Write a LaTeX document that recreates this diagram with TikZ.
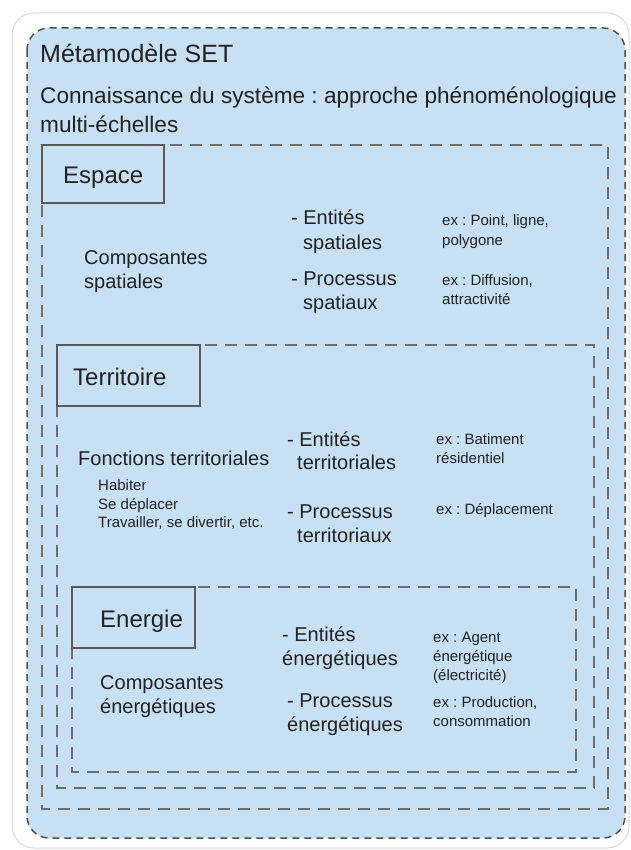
\documentclass[tikz,border=0pt]{standalone}
\usepackage{fontspec}
\setmainfont{Liberation Sans}
\frenchspacing
\definecolor{bgblue}{RGB}{199,224,243}
\definecolor{dashgray}{RGB}{110,110,110}
\definecolor{edgegray}{RGB}{80,80,80}
\definecolor{boxgray}{RGB}{90,90,90}
\definecolor{textgray}{RGB}{34,34,34}
\definecolor{outergray}{RGB}{218,218,218}
\newcommand\fTitle{\fontsize{25}{30}\selectfont}
\newcommand\fSub{\fontsize{22.6}{29}\selectfont}
\newcommand\fLab{\fontsize{24}{28}\selectfont}
\newcommand\fMid{\fontsize{20}{24}\selectfont}
\newcommand\fSmall{\fontsize{15}{19}\selectfont}
\begin{document}
\frenchspacing
\begin{tikzpicture}[x=1pt,y=-1pt,
  dashbox/.style={draw=dashgray, line width=1.2pt, dash pattern=on 12pt off 8pt},
  labelbox/.style={draw=boxgray, line width=1.2pt, fill=bgblue},
  txt/.style={anchor=base west, inner sep=0pt, text=textgray},
  big/.style={txt, font=\fMid},
  small/.style={txt, font=\fSmall}]
\useasboundingbox (0,0) rectangle (630,850);
\fill[white] (0,0) rectangle (630,850);
% outer white card
\draw[outergray, line width=1pt, rounded corners=22pt] (12,13) rectangle (629,848);
% blue panel
\draw[fill=bgblue, draw=edgegray, line width=1.5pt, dash pattern=on 7pt off 5pt, rounded corners=22pt] (27,28) rectangle (625,838);
\node[txt, font=\fTitle] (title) at (40,63) {Métamodèle SET};
\node[txt, font=\fSub] (sub1) at (40,104) {Connaissance du système : approche phénoménologique};
\node[txt, font=\fSub] (sub2) at (40,133) {multi-échelles};

% nested dashed frames
\draw[dashbox] (42,145) rectangle (608,809);
\draw[dashbox] (57,345) rectangle (594,788);
\draw[dashbox] (72,587) rectangle (576,772);

% Espace
\draw[labelbox] (42,145) rectangle (164,203);
\node[txt, font=\fLab] (espace) at (63,184) {Espace};
\node[big] (cs1) at (84,264) {Composantes};
\node[big] (cs2) at (84,288) {spatiales};
\node[big] (es1) at (291,224) {- Entités};
\node[big] (es2) at (303,249) {spatiales};
\node[big] (ps1) at (291,285) {- Processus};
\node[big] (ps2) at (303,309) {spatiaux};
\node[small] (xs1) at (442,225.5) {ex : Point, ligne,};
\node[small] (xs2) at (442,245) {polygone};
\node[small] (xs3) at (442,285.5) {ex : Diffusion,};
\node[small] (xs4) at (442,304) {attractivité};

% Territoire
\draw[labelbox] (57,345) rectangle (200,406);
\node[txt, font=\fLab] (terr) at (73,385) {Territoire};
\node[big] (ft) at (78,465) {Fonctions territoriales};
\node[small] (h1) at (98,490.5) {Habiter};
\node[small] (h2) at (98,509.5) {Se déplacer};
\node[small] (h3) at (98,527.5) {Travailler, se divertir, etc.};
\node[big] (et1) at (287,446) {- Entités};
\node[big] (et2) at (297,469) {territoriales};
\node[big] (pt1) at (287,518) {- Processus};
\node[big] (pt2) at (297,542) {territoriaux};
\node[small] (xt1) at (436,444.5) {ex : Batiment};
\node[small] (xt2) at (436,463.5) {résidentiel};
\node[small] (xt3) at (436,514.5) {ex : Déplacement};

% Energie
\draw[labelbox] (72,587) rectangle (195,648);
\node[txt, font=\fLab] (ener) at (100,627) {Energie};
\node[big] (ce1) at (100,689) {Composantes};
\node[big] (ce2) at (100,713) {énergétiques};
\node[big] (ee1) at (282,641) {- Entités};
\node[big] (ee2) at (282,665) {énergétiques};
\node[big] (pe1) at (287,707) {- Processus};
\node[big] (pe2) at (287,731) {énergétiques};
\node[small] (xe1) at (433,642.5) {ex : Agent};
\node[small] (xe2) at (433,661.5) {énergétique};
\node[small] (xe3) at (433,680.5) {(électricité)};
\node[small] (xe4) at (433,707.5) {ex : Production,};
\node[small] (xe5) at (433,726.5) {consommation};
\end{tikzpicture}
\end{document}
